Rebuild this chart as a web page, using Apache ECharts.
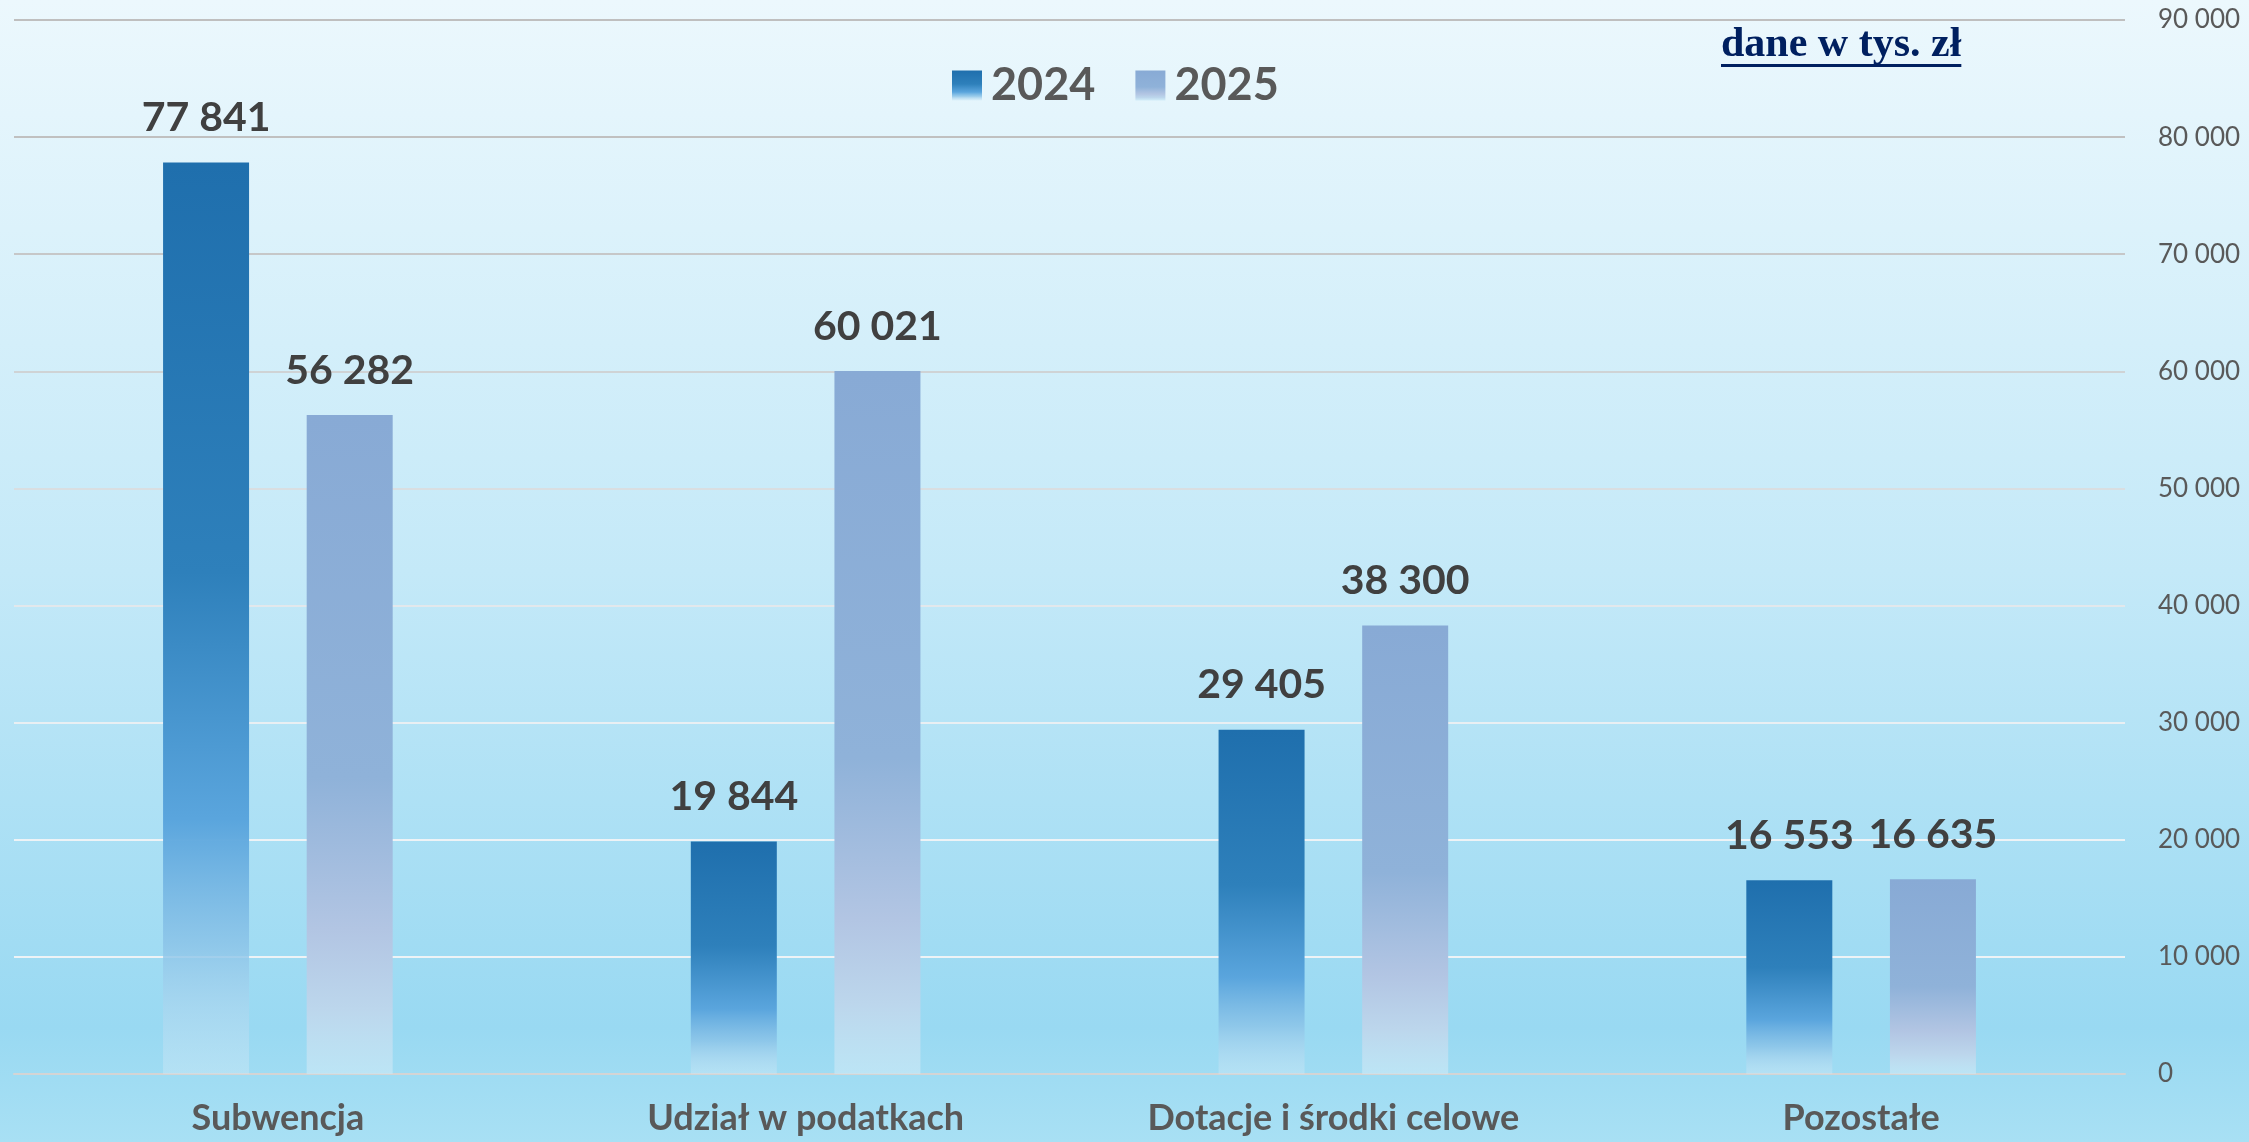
<!DOCTYPE html>
<html>
<head>
<meta charset="utf-8">
<script src="https://cdn.jsdelivr.net/npm/echarts@6/dist/echarts.min.js"></script>
<style>
html,body{margin:0;padding:0;}
#c{width:2249px;height:1142px;}
</style>
</head>
<body>
<div id="c"></div>
<script>
const categories = ['Subwencja', 'Udział w podatkach', 'Dotacje i środki celowe', 'Pozostałe'];
const seriesNames = ['2024', '2025'];
const values2024 = [77841, 19844, 29405, 16553];
const values2025 = [56282, 60021, 38300, 16635];
const unitNote = 'dane w tys. zł';

const fmt = v => String(Math.round(v)).replace(/\B(?=(\d{3})+(?!\d))/g, ' ');
const FONT = 'Lato, "Open Sans", sans-serif';

const grad = stops => new echarts.graphic.LinearGradient(0, 0, 0, 1, stops.map(s => ({offset: s[0], color: s[1]})));
const color2024 = grad([[0, '#1f6fad'], [0.45, '#2e80bb'], [0.72, '#5aa5dd'], [0.86, 'rgba(140,196,232,0.85)'], [1, 'rgba(205,232,246,0.45)']]);
const color2025 = grad([[0, '#88aad5'], [0.55, '#8fb2d9'], [0.78, '#b2c5e3'], [0.9, '#bcd6ec'], [1, 'rgba(200,232,246,0.7)']]);

const chart = echarts.init(document.getElementById('c'));

const NOTE_FONT = 'bold 42px "Liberation Serif"';
const measure = document.createElement('canvas').getContext('2d');
measure.font = NOTE_FONT;
const noteW = measure.measureText(unitNote).width;

const labelCfg = {
  show: true, position: 'top', distance: 24,
  fontFamily: FONT, fontWeight: 'bold', fontSize: 41, color: '#404040',
  formatter: p => fmt(p.value)
};

chart.setOption({
  backgroundColor: new echarts.graphic.LinearGradient(0, 0, 0, 1, [
    {offset: 0, color: '#ecf8fd'}, {offset: 0.5, color: '#c4e9f8'},
    {offset: 0.9, color: '#99d9f2'}, {offset: 1, color: '#a8e0f4'}
  ]),
  animation: false,
  legend: {
    top: 58, left: 947,
    itemWidth: 30, itemHeight: 30, itemGap: 40,
    textStyle: {fontFamily: FONT, fontWeight: 'bold', fontSize: 45, color: '#595959', padding: [0, 0, 0, 4]},
    data: seriesNames,
    icon: 'rect'
  },
  grid: {left: 14, right: 124, top: 20, bottom: 68, containLabel: false},
  xAxis: {
    type: 'category', data: categories,
    axisLine: {show: true, lineStyle: {color: '#d4d4d4', width: 2}},
    axisTick: {show: false},
    axisLabel: {fontFamily: FONT, fontWeight: 'bold', fontSize: 36, color: '#595959', margin: 26}
  },
  yAxis: {
    type: 'value', position: 'right', min: 0, max: 90000, interval: 10000,
    axisLine: {show: false}, axisTick: {show: false},
    axisLabel: {fontFamily: FONT, fontSize: 26, color: '#595959', margin: 33, formatter: v => fmt(v)},
    splitLine: {lineStyle: {width: 2, color: ['#d6d6d6', '#eef3f6', '#eef3f6', '#e9eff3', '#e2e8ec', '#d9dee1', '#cfd3d5', '#c6c7c8', '#c0c0c0', '#bfbfbf']}}
  },
  series: [
    {name: seriesNames[0], type: 'bar', data: values2024, barWidth: 86, barGap: '67%', itemStyle: {color: color2024}, label: labelCfg},
    {name: seriesNames[1], type: 'bar', data: values2025, barWidth: 86, itemStyle: {color: color2025}, label: labelCfg}
  ],
  graphic: [
    {type: 'text', left: 1721, top: 24, style: {text: unitNote, font: NOTE_FONT, fill: '#002060'}},
    {type: 'rect', left: 1721, top: 64, shape: {width: noteW, height: 3}, style: {fill: '#002060'}}
  ]
});
</script>
</body>
</html>
